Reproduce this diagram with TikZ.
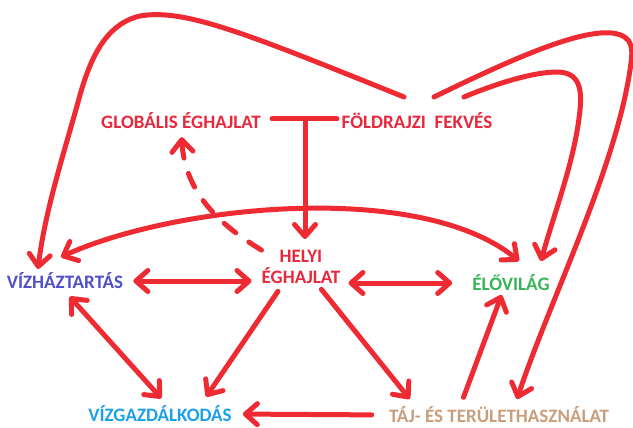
\documentclass[tikz,border=0pt]{standalone}
\usepackage{fontspec}
\setmainfont{Carlito}
\usetikzlibrary{arrows.meta}
\definecolor{arrred}{HTML}{EE2A33}
\definecolor{txtred}{HTML}{E8283C}
\definecolor{txtblue}{HTML}{5050CC}
\definecolor{txtgreen}{HTML}{38B458}
\definecolor{txtsky}{HTML}{1CA0E8}
\definecolor{txttan}{HTML}{C89E7C}

\begin{document}
\begin{tikzpicture}[x=1pt,y=-1pt,
  lbl/.style={font=\fontsize{19}{21}\selectfont\bfseries, inner sep=0pt},
  link/.style={draw=arrred, line width=5pt, line cap=round, line join=round},
  arr/.style={link, -{Straight Barb[length=12pt,width=21pt,round]}},
  dbl/.style={link, {Straight Barb[length=12pt,width=21pt,round]}-{Straight Barb[length=12pt,width=21pt,round]}}]
\useasboundingbox (0,0) rectangle (633,428);
% labels
\node[lbl, txtred] (glob) at (181,121) {GLOBÁLIS ÉGHAJLAT};
\node[lbl, txtred] (fold) at (417,121) {FÖLDRAJZI\ \ FEKVÉS};
\node[lbl, txtred, align=center] (helyi) at (301,267) {HELYI\\ÉGHAJLAT};
\node[lbl, txtblue] (vizh) at (65,281) {VÍZHÁZTARTÁS};
\node[lbl, txtgreen] (elo) at (511,283) {ÉLŐVILÁG};
\node[lbl, txtsky] (vizg) at (160,414) {VÍZGAZDÁLKODÁS};
\node[lbl, txttan] (taj) at (499,415) {TÁJ- ÉS TERÜLETHASZNÁLAT};
% free ends
\coordinate (tl) at (272,119);
\coordinate (tr) at (337,119);
\coordinate (tm) at (305,119);
\coordinate (th) at (305,239);
\coordinate (fl) at (404,97);
\coordinate (fm) at (434,97);
\coordinate (fr) at (464,97);
\coordinate (dl) at (61,257);
\coordinate (dr) at (519,261);
% T
\draw[link] (tl) -- (tr);
\draw[arr] (tm) -- (th);
% big curves from the top
\draw[arr] (fl) .. controls (250,35) and (185,8) .. (140,16)
  .. controls (105,24) and (90,60) .. (80,95)
  .. controls (65,150) and (45,210) .. (38,269);
\draw[arr] (fm) .. controls (520,55) and (580,30) .. (612,33)
  .. controls (635,36) and (633,50) .. (630,70)
  .. controls (615,170) and (550,300) .. (517,399);
\draw[arr] (fr) .. controls (500,82) and (535,72) .. (557,72)
  .. controls (580,72) and (582,90) .. (580,110)
  .. controls (575,160) and (555,210) .. (541,261);
% dome
\draw[dbl] (dl) .. controls (175,205) and (420,180) .. (dr);
% dashed
\draw[arr, dash pattern=on 15pt off 16pt, shorten >=8pt] (helyi.north west) .. controls (215,222) and (185,190) .. (glob.south);
% arrows between the labels
\draw[dbl, shorten <=10pt, shorten >=10pt] (vizh.east) -- (vizh.east -| helyi.west);
\draw[dbl, shorten <=8pt, shorten >=20pt] (elo.west -| helyi.east) -- (elo.west);
\draw[dbl, shorten <=10pt, shorten >=10pt] ([xshift=-2pt]vizh.south) -- ([xshift=8pt]vizg.north);
\draw[arr, shorten <=9pt, shorten >=11pt] ([xshift=-18pt]helyi.south) -- ([xshift=40pt]vizg.north);
\draw[arr, shorten <=7pt, shorten >=10pt] ([xshift=16pt]helyi.south) -- ([xshift=-83pt]taj.north);
\draw[arr, shorten <=17pt, shorten >=11pt] (taj.west) -- (vizg.east);
\draw[arr, shorten <=10pt, shorten >=4pt] ([xshift=-39pt]taj.north) -- ([xshift=-8pt]elo.south);
\end{tikzpicture}
\end{document}
